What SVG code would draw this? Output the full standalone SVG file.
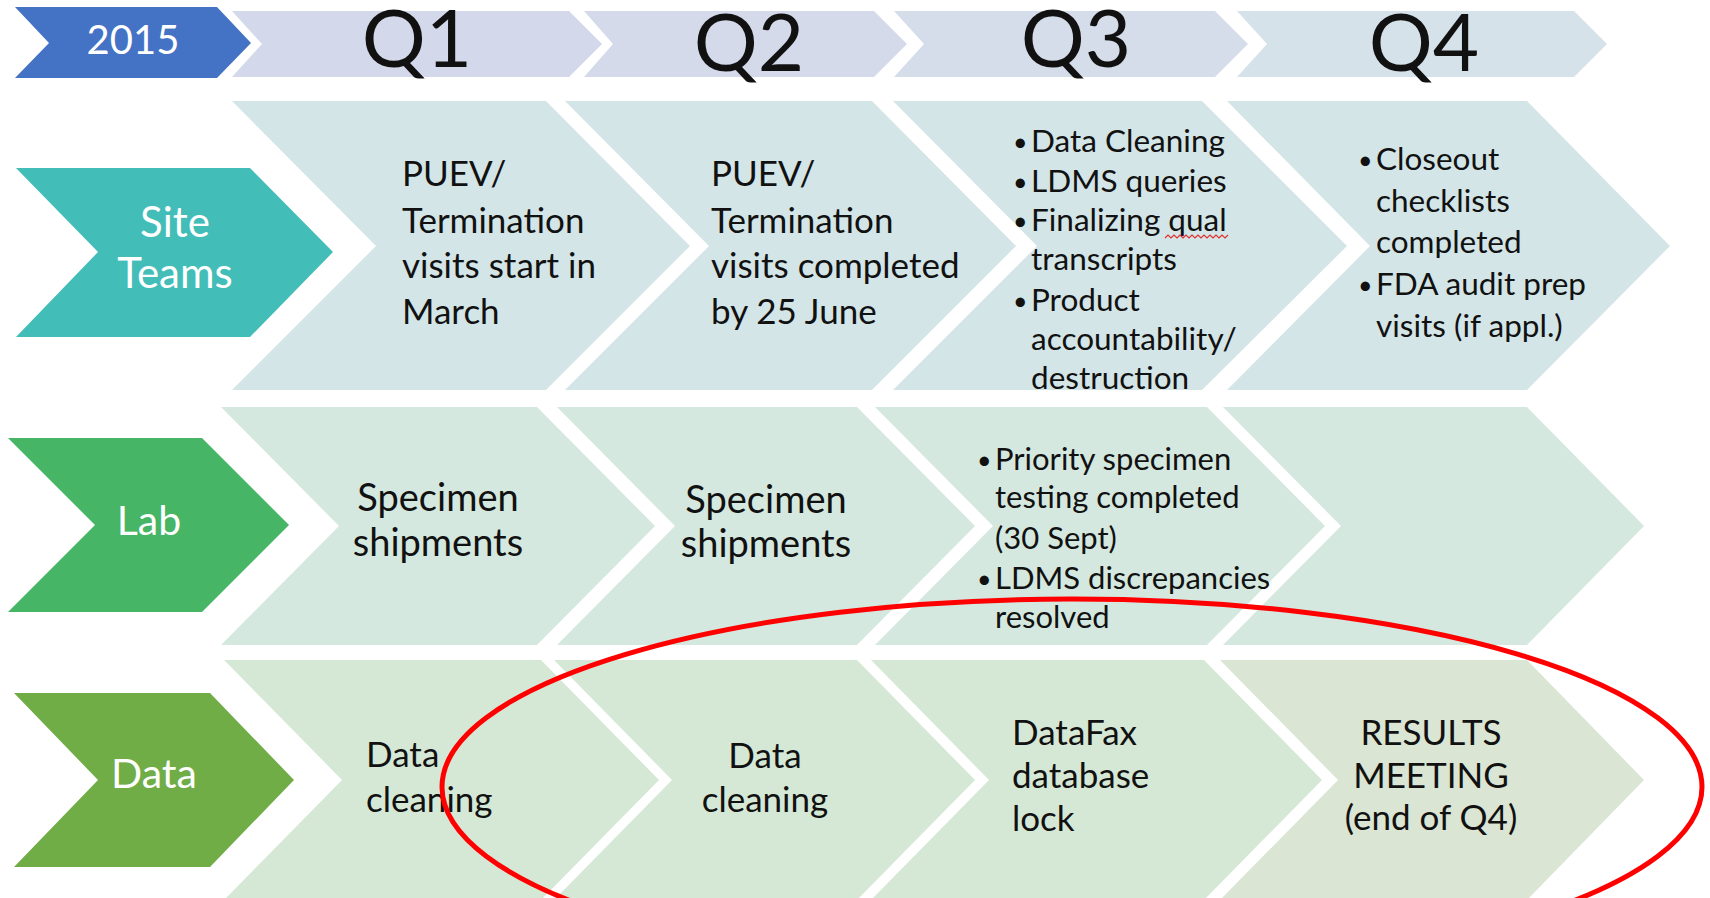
<svg xmlns="http://www.w3.org/2000/svg" width="1710" height="898" viewBox="0 0 1710 898">
<style>
  text { font-family: Lato, "Liberation Sans", "DejaVu Sans", sans-serif; fill: #111; }
  .lbl { fill: #ffffff; font-size: 41px; text-anchor: middle; }
  .q { font-size: 80px; text-anchor: middle; }
  .body { font-size: 35px; }
  .mid { text-anchor: middle; }
  .b30 { font-size: 31.5px; }
  .b31 { font-size: 31.5px; }
  .bul { font-size: 25px; }
  .hq1 { fill: #D3D8EA; } .hq2 { fill: #D4DAEA; } .hq3 { fill: #D5DDEA; } .hq4 { fill: #D6E2EA; }
  .r1 { fill: #D3E5E7; }
  .r2 { fill: #D4E8DF; }
  .r3 { fill: #D5E8D6; }
  .r3b { fill: #DAE5D3; }
</style>
<rect width="1710" height="898" fill="#ffffff"/>

<!-- Header -->
<g id="year-2015">
  <polygon points="15,7 217,7 251,43 217,78 15,78 49,43" fill="#4472C4"/>
  <text class="lbl" x="133" y="54" style="font-size:40px">2015</text>
</g>
<g id="header-q1">
  <polygon class="hq1" points="232,11 569,11 602,44 569,77 232,77 262,44"/>
  <text class="q" x="417" y="67">Q1</text>
</g>
<g id="header-q2">
  <polygon class="hq2" points="584,11 874,11 907,44 874,77 584,77 613,44"/>
  <text class="q" x="749" y="71">Q2</text>
</g>
<g id="header-q3">
  <polygon class="hq3" points="894,11 1215,11 1248,44 1215,77 894,77 924,44"/>
  <text class="q" x="1076" y="67">Q3</text>
</g>
<g id="header-q4">
  <polygon class="hq4" points="1237,11 1574,11 1607,44 1574,77 1237,77 1267,44"/>
  <text class="q" x="1424" y="71">Q4</text>
</g>

<!-- Row 1: Site Teams -->
<g id="label-site-teams">
  <polygon points="16,168 250,168 333,252 250,337 16,337 98,252" fill="#43BDB8"/>
  <text class="lbl" x="175" y="237" style="font-size:42px">Site</text>
  <text class="lbl" x="175" y="288" style="font-size:42px">Teams</text>
</g>
<g id="site-q1">
  <polygon class="r1" points="232,101 546,101 690,246 546,390 232,390 376,246"/>
  <text class="body" x="402" y="186">PUEV/</text>
  <text class="body" x="402" y="233">Termination</text>
  <text class="body" x="402" y="278">visits start in</text>
  <text class="body" x="402" y="324">March</text>
</g>
<g id="site-q2">
  <polygon class="r1" points="565,101 872,101 1016,246 872,390 565,390 709,246"/>
  <text class="body" x="711" y="186">PUEV/</text>
  <text class="body" x="711" y="233">Termination</text>
  <text class="body" x="711" y="278">visits completed</text>
  <text class="body" x="711" y="324">by 25 June</text>
</g>
<g id="site-q3">
  <polygon class="r1" points="893,101 1202,101 1347,246 1202,390 893,390 1037,246"/>
  <g class="b30">
    <text class="bul" x="1013" y="151">•</text><text x="1031" y="152">Data Cleaning</text>
    <text class="bul" x="1013" y="191">•</text><text x="1031" y="192">LDMS queries</text>
    <text class="bul" x="1013" y="230">•</text><text x="1031" y="231">Finalizing qual</text>
    <text x="1031" y="270">transcripts</text>
    <text class="bul" x="1013" y="310">•</text><text x="1031" y="311">Product</text>
    <text x="1031" y="350">accountability/</text>
    <text x="1031" y="389">destruction</text>
  </g>
  <polyline points="1165,238 1168,235 1171,238 1174,235 1177,238 1180,235 1183,238 1186,235 1189,238 1192,235 1195,238 1198,235 1201,238 1204,235 1207,238 1210,235 1213,238 1216,235 1219,238 1222,235 1225,238 1228,235" fill="none" stroke="#E03030" stroke-width="1.2"/>
</g>
<g id="site-q4">
  <polygon class="r1" points="1227,101 1527,101 1670,246 1527,390 1227,390 1370,246"/>
  <g class="b31">
    <text class="bul" x="1358" y="169">•</text><text x="1376" y="170">Closeout</text>
    <text x="1376" y="212">checklists</text>
    <text x="1376" y="253">completed</text>
    <text class="bul" x="1358" y="294">•</text><text x="1376" y="295">FDA audit prep</text>
    <text x="1376" y="337">visits (if appl.)</text>
  </g>
</g>

<!-- Row 2: Lab -->
<g id="label-lab">
  <polygon points="8,438 202,438 289,525 202,612 8,612 95,525" fill="#46B565"/>
  <text class="lbl" x="149" y="535">Lab</text>
</g>
<g id="lab-q1">
  <polygon class="r2" points="221,407 537,407 655,526 537,645 221,645 339,526"/>
  <text class="body mid" x="438" y="511" style="font-size:38px">Specimen</text>
  <text class="body mid" x="438" y="556" style="font-size:38px">shipments</text>
</g>
<g id="lab-q2">
  <polygon class="r2" points="557,407 857,407 975,526 857,645 557,645 675,526"/>
  <text class="body mid" x="766" y="513" style="font-size:38px">Specimen</text>
  <text class="body mid" x="766" y="557" style="font-size:38px">shipments</text>
</g>
<g id="lab-q3">
  <polygon class="r2" points="875,407 1207,407 1325,526 1207,645 875,645 993,526"/>
  <g class="b31" style="font-size:31px">
    <text class="bul" x="977" y="469">•</text><text x="995" y="470">Priority specimen</text>
    <text x="995" y="508">testing completed</text>
    <text x="995" y="549">(30 Sept)</text>
    <text class="bul" x="977" y="588">•</text><text x="995" y="589">LDMS discrepancies</text>
    <text x="995" y="628">resolved</text>
  </g>
</g>
<g id="lab-q4">
  <polygon class="r2" points="1223,407 1527,407 1644,526 1527,645 1223,645 1341,526"/>
</g>

<!-- Row 3: Data -->
<g id="label-data">
  <polygon points="14,693 210,693 294,780 210,867 14,867 98,780" fill="#70AD47"/>
  <text class="lbl" x="154" y="788">Data</text>
</g>
<g id="data-q1">
  <polygon class="r3" points="224,660 541,660 659,780 541,900 224,900 342,780"/>
  <text class="body" x="366" y="767">Data</text>
  <text class="body" x="366" y="812">cleaning</text>
</g>
<g id="data-q2">
  <polygon class="r3" points="554,660 857,660 975,780 857,900 554,900 672,780"/>
  <text class="body mid" x="765" y="768">Data</text>
  <text class="body mid" x="765" y="812">cleaning</text>
</g>
<g id="data-q3">
  <polygon class="r3" points="871,660 1204,660 1322,780 1204,900 871,900 989,780"/>
  <text class="body" x="1012" y="745">DataFax</text>
  <text class="body" x="1012" y="788">database</text>
  <text class="body" x="1012" y="831">lock</text>
</g>
<g id="data-q4">
  <polygon class="r3b" points="1220,660 1527,660 1644,780 1527,900 1220,900 1338,780"/>
  <text class="body mid" x="1431" y="745">RESULTS</text>
  <text class="body mid" x="1431" y="788">MEETING</text>
  <text class="body mid" x="1431" y="830">(end of Q4)</text>
</g>

<!-- Annotation -->
<g id="connectors">
  <ellipse cx="1072" cy="787" rx="630" ry="188" fill="none" stroke="#FF0000" stroke-width="5"/>
</g>
</svg>
